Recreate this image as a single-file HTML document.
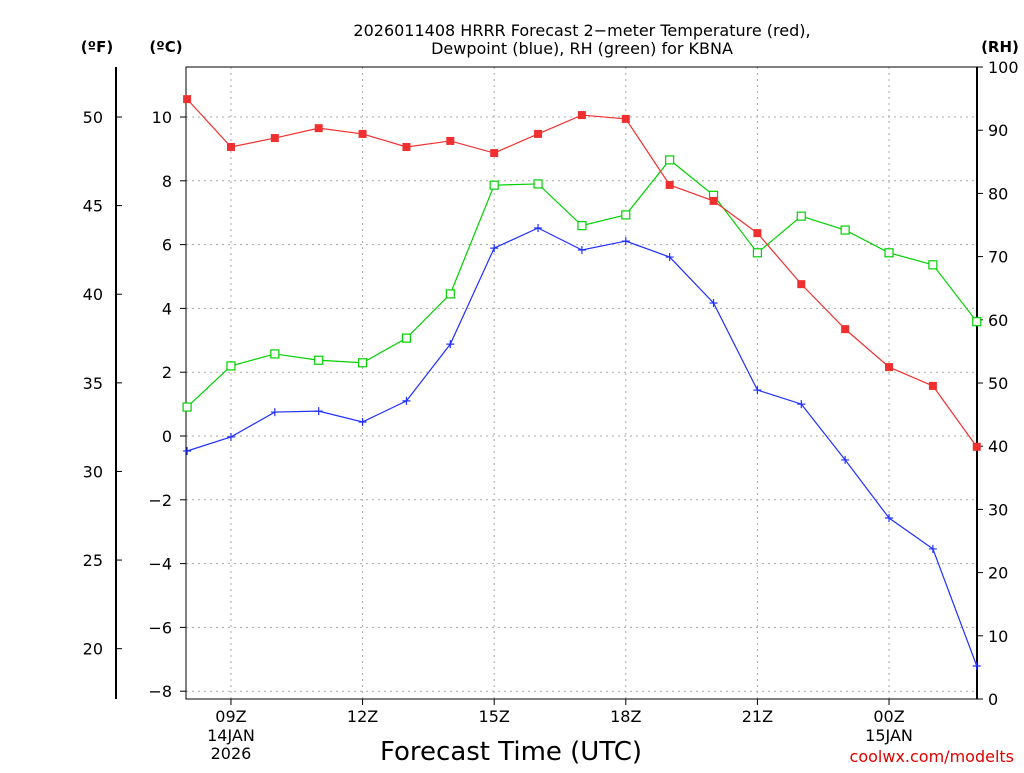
<!DOCTYPE html>
<html><head><meta charset="utf-8"><style>
body{margin:0;background:#fff;}
svg text{font-family:"DejaVu Sans","Liberation Sans",sans-serif;fill:#000;}
</style></head><body>
<svg id="chart" width="1024" height="768" xmlns="http://www.w3.org/2000/svg">
<text x="582" y="36" font-size="16" text-anchor="middle">2026011408 HRRR Forecast 2−meter Temperature (red),</text>
<text x="582" y="54" font-size="16" text-anchor="middle">Dewpoint (blue), RH (green) for KBNA</text>
<text x="97" y="52" font-size="15" font-weight="bold" text-anchor="middle">(ºF)</text>
<text x="166" y="52" font-size="15" font-weight="bold" text-anchor="middle">(ºC)</text>
<text x="1000" y="52" font-size="15" font-weight="bold" text-anchor="middle">(RH)</text>
<text x="511" y="760" font-size="26" text-anchor="middle">Forecast Time (UTC)</text>
<text x="1014" y="762" font-size="16" fill="#e00000" style="fill:#e00000" text-anchor="end">coolwx.com/modelts</text>
<g id="grid"></g><g id="axes"></g><g id="series"></g>
</svg>
<script>
const hours = [8,9,10,11,12,13,14,15,16,17,18,19,20,21,22,23,24,25,26];
const tempC = [10.56,9.06,9.34,9.65,9.47,9.06,9.25,8.87,9.47,10.06,9.94,7.87,7.37,6.36,4.76,3.35,2.16,1.57,-0.34];
const dewC = [-0.47,-0.03,0.75,0.78,0.44,1.10,2.88,5.89,6.52,5.83,6.11,5.61,4.17,1.44,1.00,-0.75,-2.57,-3.54,-7.21];
const rh = [46.2,52.7,54.6,53.6,53.2,57.1,64.1,81.3,81.5,74.9,76.6,85.3,79.7,70.6,76.4,74.2,70.6,68.7,59.7];
const cTicks = [-8,-6,-4,-2,0,2,4,6,8,10];
const fTicks = [20,25,30,35,40,45,50];
const rhTicks = [0,10,20,30,40,50,60,70,80,90,100];
const xTickHours = [9,12,15,18,21,24];
const xTickLabels = ["09Z","12Z","15Z","18Z","21Z","00Z"];
const xSubLabels = {9:["14JAN","2026"],24:["15JAN"]};

const L=186,R=977,T=67,B=699;
const x = h => 187.1 + (h-8)*43.87;
const yC = c => 436 - 31.9*c;
const yR = r => 699 - 6.32*r;
const NS="http://www.w3.org/2000/svg";
function mk(parent,tag,attrs,text){const e=document.createElementNS(NS,tag);for(const k in attrs)e.setAttribute(k,attrs[k]);if(text!==undefined)e.textContent=text;document.getElementById(parent).appendChild(e);return e;}

for(const c of cTicks){const l=mk('grid','line',{x1:L,x2:R,y1:yC(c),y2:yC(c),stroke:'#aaa','stroke-dasharray':'2,4'});

}
for(const h of xTickHours){const l=mk('grid','line',{x1:x(h),x2:x(h),y1:T,y2:B,stroke:'#aaa','stroke-dasharray':'2,4'});

}

const frame=mk('axes','rect',{x:L,y:T,width:R-L,height:B-T,fill:'none',stroke:'#000','stroke-width':1});


const rl=mk('axes','line',{x1:R,x2:R,y1:T,y2:B,stroke:'#000','stroke-width':2});


const fl=mk('axes','line',{x1:116,x2:116,y1:T,y2:B,stroke:'#000','stroke-width':2});



for(const c of cTicks){
 mk('axes','line',{x1:L-6,x2:L,y1:yC(c),y2:yC(c),stroke:'#000'});
 const t=mk('axes','text',{x:L-14,y:yC(c)+6,'font-size':16,'text-anchor':'end'},c<0?'−'+(-c):String(c));
 
 
}
for(const f of fTicks){
 const c=(f-32)*5/9;
 mk('axes','line',{x1:116,x2:122,y1:yC(c),y2:yC(c),stroke:'#000'});
 const t=mk('axes','text',{x:103,y:yC(c)+6,'font-size':16,'text-anchor':'end'},String(f));
 
 
}
for(const r of rhTicks){
 mk('axes','line',{x1:R,x2:R+6,y1:yR(r),y2:yR(r),stroke:'#000'});
 const t=mk('axes','text',{x:R+11,y:yR(r)+6,'font-size':16},String(r));
 
 
}
xTickHours.forEach((h,i)=>{
 mk('axes','line',{x1:x(h),x2:x(h),y1:B,y2:B+6,stroke:'#000'});
 const t=mk('axes','text',{x:x(h),y:722,'font-size':16,'text-anchor':'middle'},xTickLabels[i]);
 
 
 (xSubLabels[h]||[]).forEach((s,j)=>{
  const st=mk('axes','text',{x:x(h),y:741+j*18,'font-size':16,'text-anchor':'middle'},s);
  
  
 });
});

function series(vals,yf,color,marker,name){
 const pts=vals.map((v,i)=>x(hours[i])+','+yf(v)).join(' ');
 const pl=mk('series','polyline',{points:pts,fill:'none',stroke:color,'stroke-width':1.2});
 
 
 vals.forEach((v,i)=>{
  const cx=x(hours[i]),cy=yf(v);let m;
  if(marker==='fill') m=mk('series','rect',{x:cx-4,y:cy-4,width:8,height:8,fill:color});
  else if(marker==='open') m=mk('series','rect',{x:cx-4,y:cy-4,width:8,height:8,fill:'#fff',stroke:color,'stroke-width':1.2});
  else m=mk('series','path',{d:`M${cx-4},${cy}H${cx+4}M${cx},${cy-4}V${cy+4}`,stroke:color,'stroke-width':1.2});
  
  
 });
}
series(rh,yR,'#00d000','open','rh');
series(dewC,yC,'#2030ff','plus','dewpoint');
series(tempC,yC,'#f03030','fill','temperature');
</script>
</body></html>
